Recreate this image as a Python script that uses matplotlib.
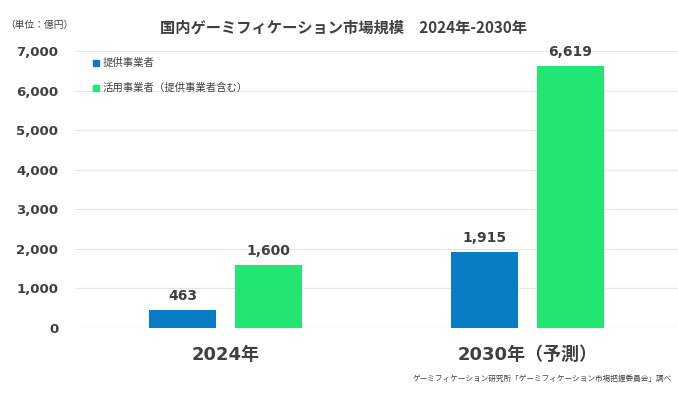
import numpy as np
import matplotlib.pyplot as plt
from matplotlib.patches import Rectangle

plt.rcParams['font.family'] = ['DejaVu Sans', 'Noto Sans CJK JP']
jp = ['Noto Sans CJK JP', 'DejaVu Sans']

# data
years = ["2024年", "2030年（予測）"]
provider = [463, 1915]
user = [1600, 6619]
series_names = ["提供事業者", "活用事業者（提供事業者含む）"]
yticks = [0, 1000, 2000, 3000, 4000, 5000, 6000, 7000]

blue = "#0a7cc6"
green = "#22e572"
text_col = "#404040"

W, H = 678, 396
fig = plt.figure(figsize=(W / 100, H / 100), dpi=100)
ax = fig.add_axes([75 / W, 68 / H, 603 / W, 277 / H])

x = np.arange(len(years))
w = 0.222
off = 0.143
b1 = ax.bar(x - off, provider, w, color=blue, zorder=2)
b2 = ax.bar(x + off, user, w, color=green, zorder=2)

for bars, vals in [(b1, provider), (b2, user)]:
    for b, v in zip(bars, vals):
        ax.text(b.get_x() + b.get_width() / 2, v + 180, f"{v:,}",
                ha="center", va="bottom", fontsize=10, fontweight="bold",
                color=text_col)

ax.set_xlim(-0.5, 1.5)
ax.set_ylim(0, 7000)
ax.set_yticks(yticks)
ax.set_yticklabels([f"{t:,}" for t in yticks], fontsize=9.5, fontweight="bold",
                   color=text_col)
ax.set_xticks(x)
ax.set_xticklabels(years, fontsize=13, fontweight="bold", color=text_col)
ax.tick_params(axis="y", length=0, pad=12)
ax.tick_params(axis="x", length=0, pad=13)
ax.grid(axis="y", color="#e6e6e6", linewidth=0.8, zorder=0)
ax.set_axisbelow(True)
for s in ax.spines.values():
    s.set_visible(False)

# legend drawn by hand
for i, (name, col) in enumerate(zip(series_names, [blue, green])):
    yc = 63 + 25 * i
    fig.patches.append(Rectangle((93 / W, 1 - (yc + 3) / H), 6 / W, 6 / H,
                                 transform=fig.transFigure, color=col))
    fig.text(103 / W, 1 - yc / H, name, color=text_col, fontsize=7.5,
             va="center", family=jp)

fig.text(343 / W, 1 - 28 / H, "国内ゲーミフィケーション市場規模　2024年-2030年",
         ha="center", va="center", fontsize=11, fontweight="bold", color=text_col,
         family=jp)
fig.text(5 / W, 1 - 25 / H, "（単位：億円）", ha="left", va="center",
         fontsize=7, color=text_col, family=jp)
fig.text(672 / W, 1 - 379 / H,
         "ゲーミフィケーション研究所「ゲーミフィケーション市場把握委員会」調べ",
         ha="right", va="center", fontsize=5.5, color=text_col, family=jp)

fig.savefig("out.png", dpi=100)
